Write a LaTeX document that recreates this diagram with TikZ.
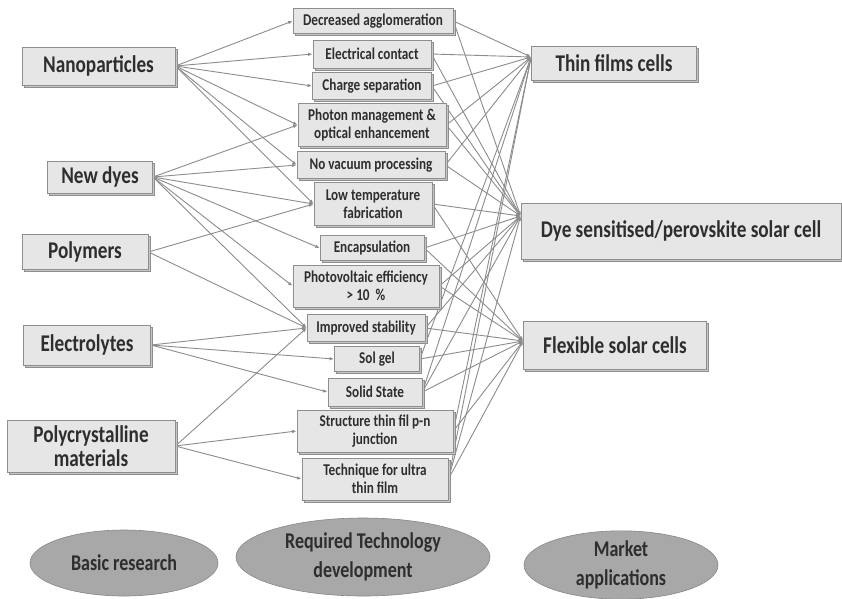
\documentclass[tikz,border=0pt]{standalone}
\usepackage{fontspec}
\setmainfont{Carlito}[FakeStretch=0.8]
\usetikzlibrary{arrows.meta,shadows,shapes.geometric,backgrounds}
\definecolor{boxfill}{HTML}{E6E6E6}
\definecolor{boxline}{HTML}{8E8E8E}
\definecolor{boxshade}{HTML}{C6C6C6}
\definecolor{ink}{HTML}{2E2E2E}
\definecolor{wire}{HTML}{8C8C8C}
\definecolor{stagefill}{HTML}{A8A8A8}
\tikzset{
  panel/.style={fill=boxfill, draw=boxline, line width=0.8pt, inner sep=0pt, align=center, text=ink,
    general shadow={shadow xshift=2pt, shadow yshift=-2pt, fill=boxshade, draw=boxline, line width=0.6pt}},
  srcbox/.style={panel, font=\bfseries\fontsize{24}{24}\selectfont},
  techbox/.style={panel, font=\bfseries\fontsize{16.5}{18}\selectfont},
  mktbox/.style={panel, font=\bfseries\fontsize{24}{24}\selectfont},
  stage/.style={ellipse, fill=stagefill, draw=stagefill!80!black, line width=0.6pt, inner sep=0pt,
    align=center, text=ink, font=\bfseries\fontsize{22.5}{29}\selectfont},
  link/.style={-{Latex[length=4.5pt,width=3.5pt]}, wire, line width=0.9pt},
}

\begin{document}
\begin{tikzpicture}[x=1pt,y=-1pt]
  \useasboundingbox (0,0) rectangle (842,598);
  % basic research
  \node[srcbox, minimum width=153pt, minimum height=38pt] (nano)  at (98.5,66) {Nanoparticles};
  \node[srcbox, minimum width=105pt, minimum height=32pt] (dyes)  at (100,177) {New dyes};
  \node[srcbox, minimum width=126pt, minimum height=35pt] (poly)  at (85,252)  {Polymers};
  \node[srcbox, minimum width=127pt, minimum height=40pt] (elec)  at (87,345)  {Electrolytes};
  \node[srcbox, minimum width=168pt, minimum height=52pt] (polyc) at (91,446)  {Polycrystalline\\materials};

  % required technology
  \node[techbox, minimum width=160pt, minimum height=25pt] (aggl)   at (373,21)  {Decreased agglomeration};
  \node[techbox, minimum width=118pt, minimum height=28pt] (elect)  at (372,54)  {Electrical contact};
  \node[techbox, minimum width=119pt, minimum height=27pt] (charge) at (372,86)  {Charge separation};
  \node[techbox, minimum width=148pt, minimum height=43pt] (photon) at (372,125) {Photon management \&\\optical enhancement};
  \node[techbox, minimum width=148pt, minimum height=27pt] (novac)  at (371,165) {No vacuum processing};
  \node[techbox, minimum width=118pt, minimum height=43pt] (lowt)   at (373,204) {Low temperature\\fabrication};
  \node[techbox, minimum width=104pt, minimum height=25pt] (encap)  at (372,248) {Encapsulation};
  \node[techbox, minimum width=146pt, minimum height=42pt] (pve)    at (366,286) {Photovoltaic efficiency\\> 10~~\%};
  \node[techbox, minimum width=118pt, minimum height=27pt] (stab)   at (366,328) {Improved stability};
  \node[techbox, minimum width=85pt,  minimum height=25pt] (solgel) at (377,359) {Sol gel};
  \node[techbox, minimum width=94pt,  minimum height=28pt] (solid)  at (375,392) {Solid State};
  \node[techbox, minimum width=156pt, minimum height=42pt] (struct) at (375,431) {Structure thin fil p-n\\junction};
  \node[techbox, minimum width=146pt, minimum height=42pt] (tech)   at (375,479) {Technique for ultra\\thin film};

  % market applications
  \node[mktbox, minimum width=165pt, minimum height=34pt] (thin) at (614,63)  {Thin films cells};
  \node[mktbox, minimum width=320pt, minimum height=56pt] (dye)  at (681,231) {Dye sensitised/perovskite solar cell};
  \node[mktbox, minimum width=183pt, minimum height=48pt] (flex) at (615,345) {Flexible solar cells};

  % stages
  \node[stage, minimum width=188pt, minimum height=66pt] (basic)  at (124,563) {Basic research};
  \node[stage, minimum width=254pt, minimum height=78pt] (reqdev) at (363,557) {Required Technology\\development};
  \node[stage, minimum width=194pt, minimum height=66pt] (market) at (621,565) {Market\\applications};

  \begin{scope}[on background layer]
    \fill[white] (0,0) rectangle (842,598);
    % research to technology
    \foreach \a/\b in {nano/aggl, nano/elect, nano/charge, nano/photon, nano/novac, nano/lowt,
      dyes/photon, dyes/novac, dyes/lowt, dyes/encap, dyes/pve, dyes/stab,
      poly/lowt, poly/stab,
      elec/stab, elec/solgel, elec/solid,
      polyc/stab, polyc/struct, polyc/tech}
      \draw[link] (\a.east) -- (\b.west);
    % technology to market
    \foreach \a in {aggl, elect, charge, photon, novac, solgel, solid, struct, tech}
      \draw[link] (\a.east) -- ([yshift=6pt]thin.west);
    \foreach \a in {aggl, elect, charge, photon, novac, lowt, encap, pve, stab, solid, tech}
      \draw[link] (\a.east) -- ([yshift=15pt]dye.west);
    \foreach \a in {lowt, encap, pve, stab, solgel, solid, struct, tech}
      \draw[link] (\a.east) -- ([yshift=4pt]flex.west);
  \end{scope}
\end{tikzpicture}
\end{document}
